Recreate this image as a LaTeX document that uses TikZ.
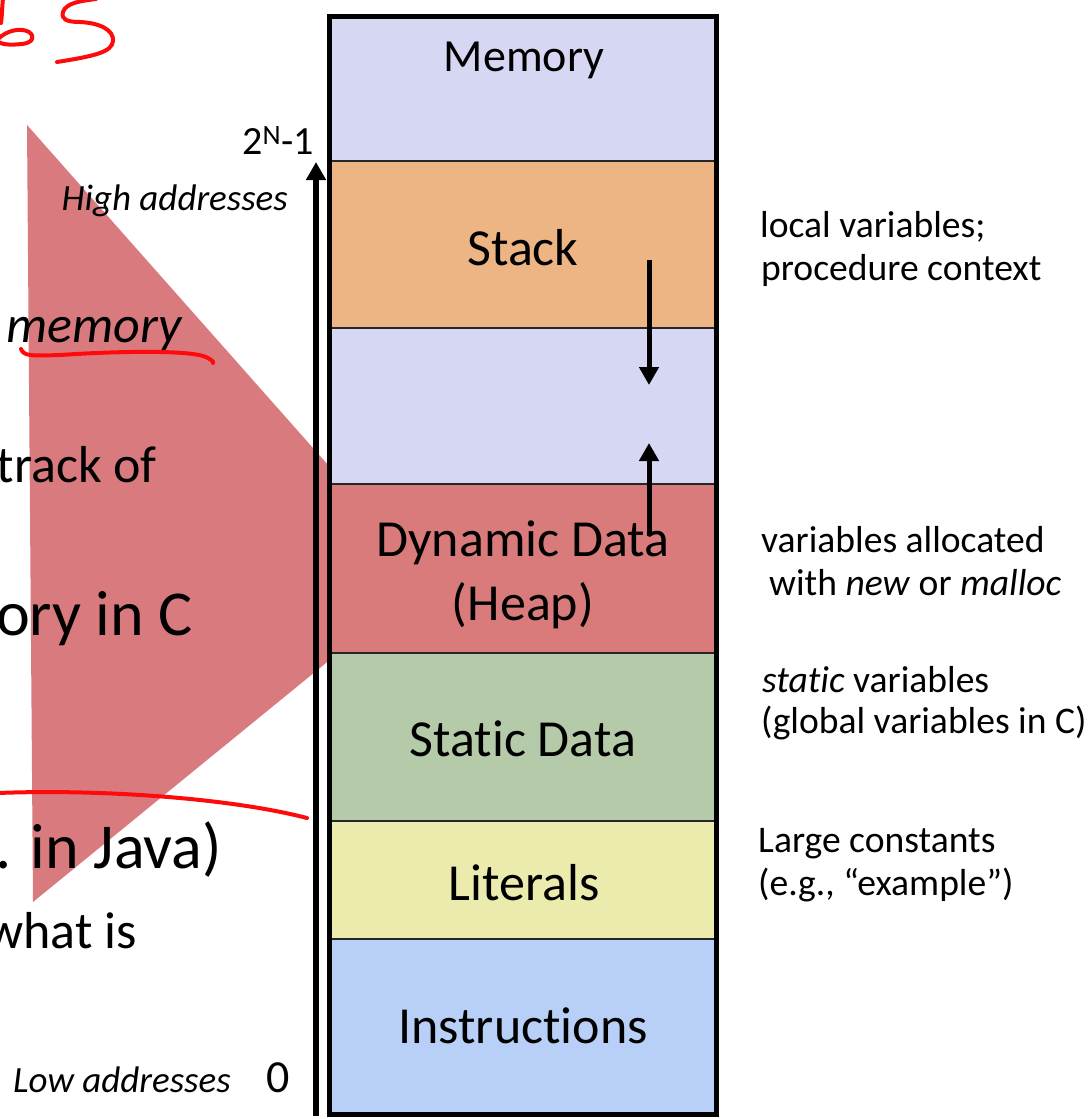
\documentclass[tikz,border=0pt]{standalone}
\usepackage{fontspec}
\setmainfont{Carlito}[RawFeature=-liga]
\usetikzlibrary{arrows.meta}

\definecolor{memfill}{HTML}{D6D7F3}
\definecolor{stackfill}{HTML}{EDB583}
\definecolor{heapfill}{HTML}{D97B7A}
\definecolor{staticfill}{HTML}{B5CAA8}
\definecolor{litfill}{HTML}{EBEBAE}
\definecolor{instrfill}{HTML}{B8D0F7}
\definecolor{pointer}{HTML}{D97B7E}
\definecolor{inkred}{HTML}{FF0A0A}

\begin{document}
\begin{tikzpicture}[x=1pt,y=-1pt,
  seg/.style={draw=black!85, line width=1.8pt, minimum width=387pt, inner sep=0pt},
  seglabel/.style={anchor=base, inner sep=0pt, font=\fontsize{52}{60}\selectfont},
  desc/.style={anchor=base west, inner sep=0pt, font=\fontsize{37.6}{43}\selectfont},
  addr/.style={anchor=base east, inner sep=0pt, font=\fontsize{37}{44}\selectfont\itshape},
  slide/.style={anchor=base east, inner sep=0pt, font=\fontsize{64}{74}\selectfont},
  slidesmall/.style={anchor=base east, inner sep=0pt, font=\fontsize{52}{60}\selectfont},
  ink/.style={draw=inkred, line width=4pt, line cap=round, line join=round},
  growarr/.style={line width=5pt, -{Triangle[width=19pt,length=18pt]}},
  axisarr/.style={line width=5.5pt, -{Triangle[width=19pt,length=18pt]}},
]
\useasboundingbox (0,0) rectangle (1089,1119);
\clip (0,0) rectangle (1089,1119);

% pointer wedge behind the memory column
\fill[pointer] (27,125) -- (33,902) -- (429,579) -- cycle;

% slide body text, running off the left edge
\node[slidesmall, font=\fontsize{52}{60}\selectfont\itshape] (tmem) at (182,342) {memory};
\node[slidesmall] (ttrack) at (157,482) {keep track of};
\node[slide] (tmemc) at (193,635) {memory in C};
\node[slide] (tjava) at (222,868) {e.g. in Java)};
\node[slidesmall] (twhat) at (137,948) {what is};

% handwritten marks
\draw[ink] (21,349) .. controls (24,356) and (30,356) .. (60,355)
  .. controls (120,351) and (190,350) .. (206,357) .. controls (212,360) and (214,362) .. (213,363);
\draw[ink] (-2,793) .. controls (100,789) and (230,798) .. (307,818);
\draw[ink] (96,-1) .. controls (80,1) and (66,3) .. (63,12)
  .. controls (61,19) and (66,22) .. (80,22)
  .. controls (100,23) and (114,30) .. (113,41)
  .. controls (112,52) and (95,56) .. (57,62);
\draw[ink] (3,-2) .. controls (2,8) and (2,16) .. (1,23);
\draw[ink] (-2,39) .. controls (6,31) and (20,27) .. (29,32)
  .. controls (36,37) and (32,43) .. (22,44)
  .. controls (12,45) and (4,45) .. (-2,42);

% address axis
\coordinate (axlow) at (316,1116);
\coordinate (axhigh) at (316,162);
\draw[axisarr] (axlow) -- (axhigh);
\node[inner sep=0pt, anchor=base east, font=\fontsize{40}{48}\selectfont] (ntop) at (314,154) {2\textsuperscript{N}-1};
\node[addr] (nhigh) at (288,210) {High addresses};
\node[addr, anchor=base west] (nlow) at (13,1092) {Low addresses};
\node[inner sep=0pt, anchor=base west, font=\fontsize{46}{54}\selectfont] (nzero) at (266,1092) {0};

% memory segments
\node[seg, fill=memfill, minimum height=144.5pt] (mem) at (523,88.75) {};
\node[seg, fill=stackfill, minimum height=167pt] (stack) at (523,244.5) {};
\node[seg, fill=memfill, minimum height=156pt] (free) at (523,406) {};
\node[seg, fill=heapfill, minimum height=169pt] (heap) at (523,568.5) {};
\node[seg, fill=staticfill, minimum height=168pt] (static) at (523,737) {};
\node[seg, fill=litfill, minimum height=118pt] (lit) at (523,880) {};
\node[seg, fill=instrfill, minimum height=174pt] (instr) at (523,1026) {};
\draw[line width=5pt] (329.5,16.5) rectangle (716.5,1114);

\node[seglabel, font=\fontsize{46}{54}\selectfont] (lmem) at (524,71) {Memory};
\node[seglabel] (lstack) at (523,265) {Stack};
\node[seglabel] (lheap) at (523,556.5) {Dynamic Data};
\node[seglabel] (lheapb) at (523,620) {(Heap)};
\node[seglabel] (lstatic) at (523,756) {Static Data};
\node[seglabel] (llit) at (524,900) {Literals};
\node[seglabel] (linstr) at (523,1043) {Instructions};

% growth directions of stack and heap
\coordinate (sgrowa) at (649,260);
\coordinate (sgrowb) at (649,385);
\coordinate (hgrowa) at (649,536);
\coordinate (hgrowb) at (649,443);
\draw[growarr] (sgrowa) -- (sgrowb);
\draw[growarr] (hgrowa) -- (hgrowb);

% segment descriptions
\node[desc] (dstacka) at (760,237) {local variables;};
\node[desc] (dstackb) at (761,280) {procedure context};
\node[desc] (dheapa) at (761,552) {variables allocated};
\node[desc] (dheapb) at (769,595) {with \textit{new} or \textit{malloc}};
\node[desc] (dstatica) at (762,692) {\textit{static} variables};
\node[desc] (dstaticb) at (761,733) {(global variables in C)};
\node[desc] (dlita) at (758,852) {Large constants};
\node[desc] (dlitb) at (758,895) {(e.g., “example”)};
\end{tikzpicture}
\end{document}
